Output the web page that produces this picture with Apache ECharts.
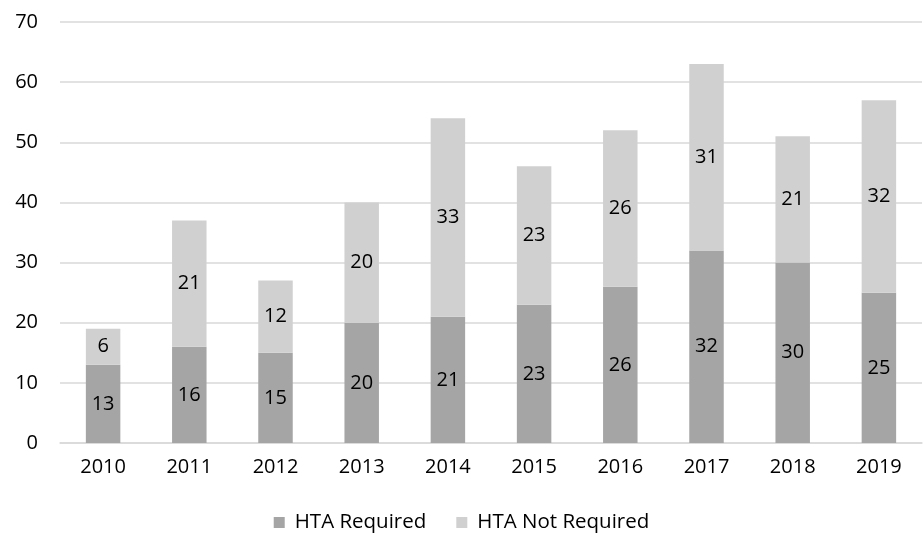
<!DOCTYPE html>
<html>
<head>
<meta charset="utf-8">
<script src="https://cdn.jsdelivr.net/npm/echarts@6/dist/echarts.min.js"></script>
<style>
  html, body { margin: 0; padding: 0; background: #fff; }
  #chart { width: 923px; height: 537px; }
</style>
</head>
<body>
<div id="chart"></div>
<script>
const years = ['2010', '2011', '2012', '2013', '2014', '2015', '2016', '2017', '2018', '2019']
const htaRequired = [13, 16, 15, 20, 21, 23, 26, 32, 30, 25]
const htaNotRequired = [6, 21, 12, 20, 33, 23, 26, 31, 21, 32]

const font = 'Open Sans, Noto Sans, sans-serif'
const labelStyle = {
  show: true,
  position: 'inside',
  color: '#000',
  fontSize: 20,
  fontFamily: font,
}

const chart = echarts.init(document.getElementById('chart'))
chart.setOption({
  animation: false,
  backgroundColor: '#fff',
  textStyle: { fontFamily: font },
  grid: { left: 60, right: 1, top: 22, bottom: 94 },
  legend: {
    bottom: -1,
    left: 'center',
    itemWidth: 11,
    itemHeight: 11,
    itemGap: 30,
    icon: 'rect',
    textStyle: { color: '#000', fontSize: 20.5, fontFamily: font, padding: [0, 0, 0, 5] },
    data: ['HTA Required', 'HTA Not Required'],
  },
  xAxis: {
    type: 'category',
    data: years,
    axisLine: { lineStyle: { color: '#d9d9d9', width: 1.5 } },
    axisTick: { show: false },
    axisLabel: { color: '#000', fontSize: 20, margin: 14, fontFamily: font },
  },
  yAxis: {
    type: 'value',
    min: 0,
    max: 70,
    interval: 10,
    axisLine: { show: false },
    axisTick: { show: false },
    axisLabel: { color: '#000', fontSize: 20, margin: 22, fontFamily: font },
    splitLine: { lineStyle: { color: '#d9d9d9', width: 1.5 } },
  },
  series: [
    {
      name: 'HTA Required',
      type: 'bar',
      stack: 'total',
      barWidth: '40%',
      data: htaRequired,
      itemStyle: { color: '#a5a5a5' },
      label: labelStyle,
    },
    {
      name: 'HTA Not Required',
      type: 'bar',
      stack: 'total',
      barWidth: '40%',
      data: htaNotRequired,
      itemStyle: { color: '#d0d0d0' },
      label: labelStyle,
    },
  ],
})
</script>
</body>
</html>
